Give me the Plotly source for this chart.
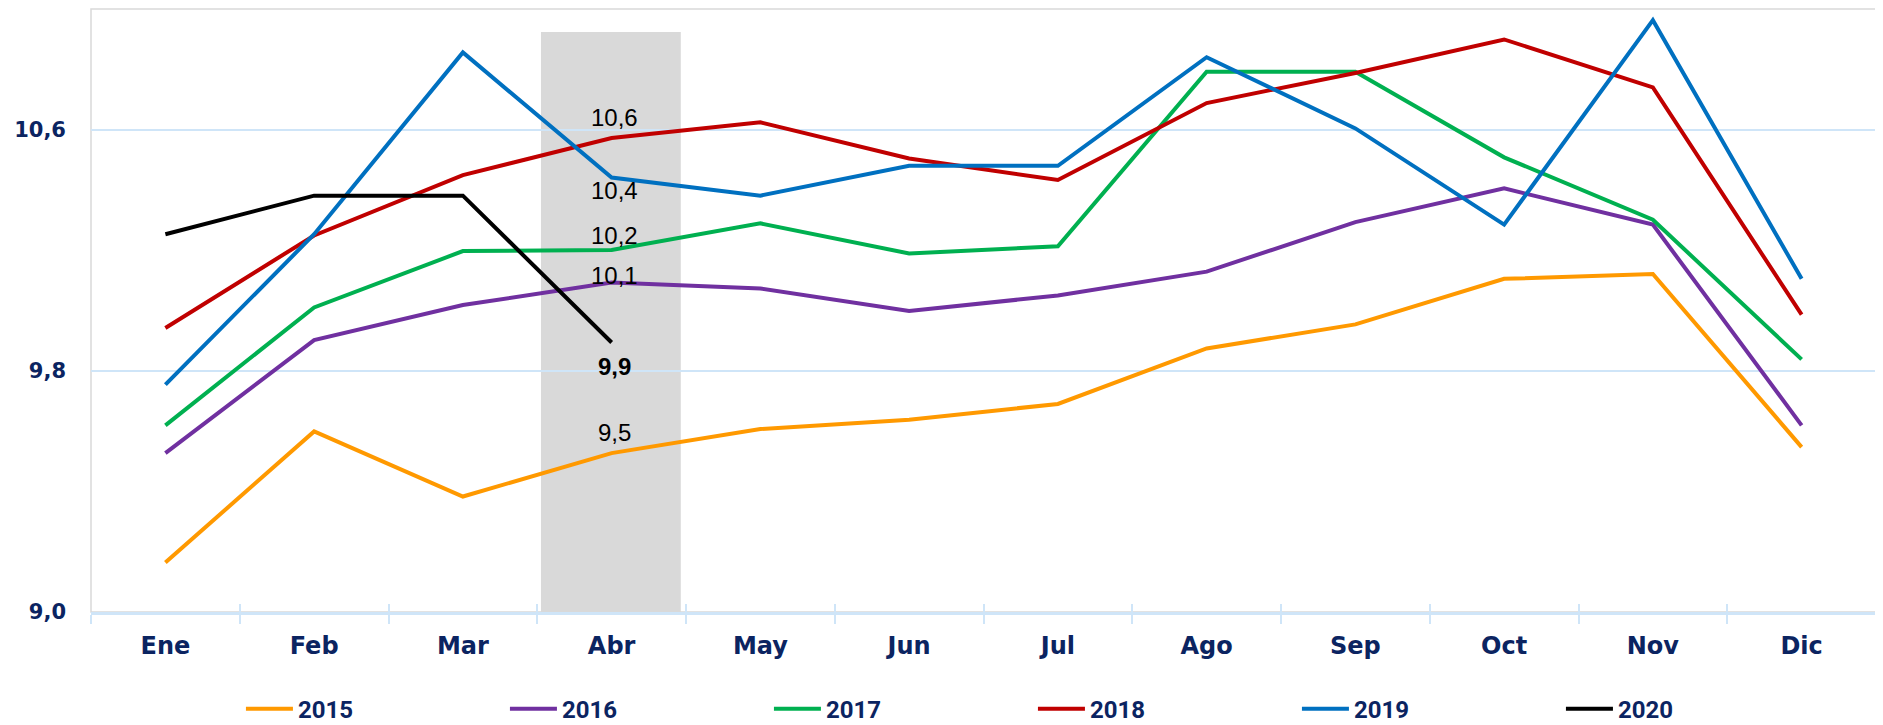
import plotly.graph_objects as go

months = ["Ene", "Feb", "Mar", "Abr", "May", "Jun", "Jul", "Ago", "Sep", "Oct", "Nov", "Dic"]

y2015 = [9.164, 9.599, 9.383, 9.527, 9.607, 9.638, 9.690, 9.874, 9.954, 10.105, 10.121, 9.547]
y2016 = [9.527, 9.902, 10.018, 10.093, 10.073, 9.998, 10.050, 10.129, 10.293, 10.405, 10.285, 9.619]
y2017 = [9.619, 10.010, 10.197, 10.201, 10.289, 10.189, 10.213, 10.792, 10.792, 10.508, 10.301, 9.838]
y2018 = [9.942, 10.249, 10.449, 10.572, 10.624, 10.504, 10.433, 10.688, 10.788, 10.899, 10.740, 9.986]
y2019 = [9.754, 10.253, 10.856, 10.441, 10.381, 10.480, 10.480, 10.840, 10.604, 10.285, 10.963, 10.105]
y2020 = [10.253, 10.381, 10.381, 9.894]

series_names = ["2015", "2016", "2017", "2018", "2019", "2020"]
series_values = [y2015, y2016, y2017, y2018, y2019, y2020]
series_colors = ["#FF9900", "#7030A0", "#00B050", "#C00000", "#0070C0", "#000000"]

y_ticks = [9.0, 9.8, 10.6]
y_ticktext = ["9,0", "9,8", "10,6"]

highlight_month = "Abr"
label_shift = {"2015": 21, "2016": 7, "2017": 14, "2018": 21, "2019": -13, "2020": -24}

NAVY = "#0b2461"
GRID = "#cfe5f8"

fig = go.Figure()
for name, vals, col in zip(series_names, series_values, series_colors):
    fig.add_trace(go.Scatter(
        x=months[:len(vals)], y=vals, name=name, mode="lines",
        line=dict(color=col, width=4), xaxis="x", yaxis="y",
    ))

# highlighted month band
hi = months.index(highlight_month)
fig.add_shape(type="rect", xref="x", yref="y", x0=hi - 0.475, x1=hi + 0.465,
              y0=9.0, y1=10.924, fillcolor="#d9d9d9", line=dict(width=0), layer="below")

# plot border (grey)
fig.add_shape(type="rect", xref="paper", yref="paper", x0=0, x1=1, y0=0, y1=1,
              line=dict(color="#d9d9d9", width=1.5), layer="below")

# value labels at highlight month
for name, vals in zip(series_names, series_values):
    v = vals[hi]
    txt = f"{v:.1f}".replace(".", ",")
    bold = name == "2020"
    fig.add_annotation(
        x=months[hi], y=v, xref="x", yref="y", text=f"<b>{txt}</b>" if bold else txt,
        showarrow=False, yshift=label_shift[name], xshift=3,
        font=dict(family="Liberation Sans", size=24, color="#000000"),
    )

fig.update_layout(
    width=1875, height=717,
    margin=dict(l=83, r=7, t=1, b=113, autoexpand=False),
    paper_bgcolor="white", plot_bgcolor="white",
    separators=",.",
    showlegend=True,
    legend=dict(orientation="h", x=0.084, xanchor="left", y=-0.161, yanchor="middle",
                entrywidth=202, entrywidthmode="pixels", itemwidth=47,
                font=dict(family="Roboto", size=24, color=NAVY, weight="bold"),
                bgcolor="rgba(0,0,0,0)"),
    xaxis=dict(
        type="category", categoryorder="array", categoryarray=months,
        range=[-0.5, 11.5], showgrid=False, showline=True, linecolor=GRID, linewidth=2.5,
        ticks="outside", tickson="boundaries", ticklen=9, tickwidth=2, tickcolor=GRID,
        ticklabelstandoff=10,
        tickfont=dict(family="DejaVu Sans", size=24, color=NAVY, weight="bold"),
        fixedrange=True,
    ),
    xaxis2=dict(
        type="category", categoryorder="array", categoryarray=months, overlaying="x",
        matches="x", range=[-0.5, 11.5], showgrid=False, showline=False,
        ticks="inside", tickson="boundaries", ticklen=8, tickwidth=2, tickcolor=GRID,
        showticklabels=False, anchor="y",
    ),
    yaxis=dict(
        range=[9.0, 11.0], tickvals=y_ticks, ticktext=y_ticktext,
        showgrid=True, gridcolor=GRID, gridwidth=1.5, zeroline=False,
        showline=False, ticks="", ticklabelstandoff=24,
        tickfont=dict(family="DejaVu Sans", size=21, color=NAVY, weight="bold"),
    ),
)
# invisible trace to activate xaxis2
fig.add_trace(go.Scatter(x=months, y=[None] * len(months), xaxis="x2", yaxis="y",
                         showlegend=False, hoverinfo="skip"))

fig.write_html("out.html")
